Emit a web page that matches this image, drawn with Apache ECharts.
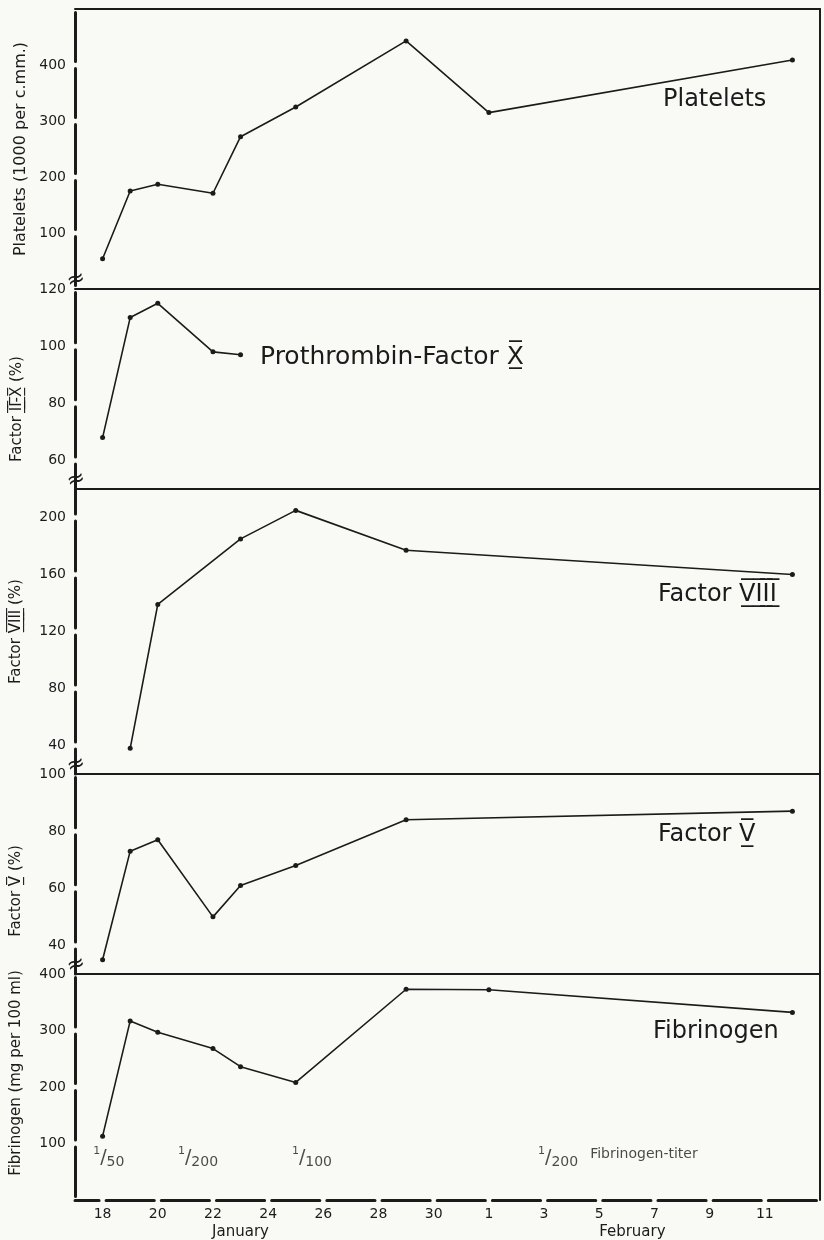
<!DOCTYPE html>
<html><head><meta charset="utf-8">
<script src="https://cdn.jsdelivr.net/npm/echarts@6/dist/echarts.min.js"></script>
<style>html,body{margin:0;padding:0;background:#f9f9f6;}#c{width:824px;height:1240px;}</style>
</head><body><div id="c"></div>
<script>
// ---- data (day numbers counted from 1 January; 32 = 1 February) ----
const plateletDays = [18,19,20,22,23,25,29,32,43];
const plateletValues = [54,175,187,171,272,325,443,315,409];
const prothrombinDays = [18,19,20,22,23];
const prothrombinValues = [68,110,115,98,97];
const factor8Days = [19,20,23,25,29,43];
const factor8Values = [38,139,185,205,177,160];
const factor5Days = [18,19,20,22,23,25,29,43];
const factor5Values = [35,73,77,50,61,68,84,87];
const fibrinogenDays = [18,19,20,22,23,25,29,32,43];
const fibrinogenValues = [113,317,297,268,236,208,373,372,332];

const xTickDays = [18,20,22,24,26,28,30,32,34,36,38,40,42];
const monthNames = ['January','February'];
const monthCenterDays = [23, 37.2];

const titerDays = [17.66, 20.73, 24.86, 33.78];
const titerDenominators = ['50','200','100','200'];
const titerLevel = 75;
const titerNote = 'Fibrinogen-titer';

const yTicks = [[100,200,300,400],[60,80,100,120],[40,80,120,160,200],[40,60,80,100],[100,200,300,400]];
const yRanges = [[0,500],[50,120],[20,220],[30,100],[0,400]];

const over = s => s.split('').map(c => c + '\u0305\u0332').join('');
const yNames = ['Platelets (1000 per c.mm.)', 'Factor ' + over('II-X') + ' (%)', 'Factor ' + over('VIII') + ' (%)', 'Factor ' + over('V') + ' (%)', 'Fibrinogen (mg per 100 ml)'];
const seriesNames = ['Platelets', 'Prothrombin-Factor ' + over('X'), 'Factor ' + over('VIII'), 'Factor ' + over('V'), 'Fibrinogen'];

// ---- layout ----
const FONT = 'DejaVu Sans';
const INK = '#1b1b1b';
const BG = '#f9f9f6';
const LEFT = 75, WIDTH = 745;
const tops = [9, 289, 489, 774, 974];
const bottoms = [289, 489, 774, 974, 1200];
const X_MIN = 17, X_MAX = 44;
const nameGaps = [44, 50, 51, 51, 51];
const nameSizes = [16, 15, 15, 15, 15];
const namePads = [[0,0,0,0],[0,40,0,0],[0,0,0,0],[0,34,0,0],[0,0,0,28]];
const GAP = 7;

function dash(lenPx, min, max, ticks) {
  const ppu = lenPx / (max - min);
  const P = (ticks[1] - ticks[0]) * ppu;
  const d0 = (ticks[0] - min) * ppu;
  const o = (((P - GAP / 2 - d0) % P) + P) % P;
  return { type: [P - GAP, GAP], dashOffset: o };
}

const grids = [], xAxes = [], yAxes = [], series = [];
const allDays = [plateletDays, prothrombinDays, factor8Days, factor5Days, fibrinogenDays];
const allVals = [plateletValues, prothrombinValues, factor8Values, factor5Values, fibrinogenValues];

for (let i = 0; i < 5; i++) {
  grids.push({ left: LEFT, width: WIDTH, top: tops[i], height: bottoms[i] - tops[i], outerBoundsMode: 'none', containLabel: false });
  xAxes.push({
    type: 'value', gridIndex: i, min: X_MIN, max: X_MAX, position: 'top',
    axisLine: { show: true, onZero: false, lineStyle: { color: INK, width: 2 } },
    axisTick: { show: false }, axisLabel: { show: false }, splitLine: { show: false }
  });
  const d = dash(bottoms[i] - tops[i], yRanges[i][0], yRanges[i][1], yTicks[i]);
  yAxes.push({
    type: 'value', gridIndex: i, min: yRanges[i][0], max: yRanges[i][1], position: 'left',
    name: yNames[i], nameLocation: 'middle', nameGap: nameGaps[i], nameRotate: 90,
    nameTextStyle: { fontFamily: FONT, fontSize: nameSizes[i], color: INK, padding: namePads[i] },
    axisLine: { show: true, onZero: false, lineStyle: { color: INK, width: 3, type: d.type, dashOffset: d.dashOffset } },
    axisTick: { show: false },
    axisLabel: { customValues: yTicks[i], margin: 9, fontFamily: FONT, fontSize: 14, color: INK },
    splitLine: { show: false }
  });
}
for (let i = 0; i < 5; i++) {
  yAxes.push({
    type: 'value', gridIndex: i, min: yRanges[i][0], max: yRanges[i][1], position: 'right',
    axisLine: { show: true, onZero: false, lineStyle: { color: INK, width: 2 } },
    axisTick: { show: false }, axisLabel: { show: false }, splitLine: { show: false }
  });
}
const xd = dash(WIDTH, X_MIN, X_MAX, xTickDays);
xAxes.push({
  type: 'value', gridIndex: 4, min: X_MIN, max: X_MAX, position: 'bottom',
  axisLine: { show: true, onZero: false, lineStyle: { color: INK, width: 3, type: xd.type, dashOffset: xd.dashOffset } },
  axisTick: { show: false }, splitLine: { show: false },
  axisLabel: { customValues: xTickDays, margin: 7, fontFamily: FONT, fontSize: 14, color: INK,
    formatter: v => String(v > 31 ? v - 31 : v) }
});

for (let i = 0; i < 5; i++) {
  series.push({
    type: 'line', name: seriesNames[i], xAxisIndex: i === 4 ? 5 : i, yAxisIndex: i,
    data: allDays[i].map((d, k) => [d, allVals[i][k]]),
    symbol: 'circle', symbolSize: 5, showSymbol: true,
    lineStyle: { color: INK, width: 1.6 }, itemStyle: { color: INK }, z: 3
  });
}
series.push({
  type: 'scatter', xAxisIndex: 5, yAxisIndex: 4, symbolSize: 0,
  data: titerDays.map(d => [d, titerLevel]),
  label: {
    show: true, position: 'right', distance: 0, color: INK, fontFamily: FONT,
    formatter: p => '{n|1}{s|/}{d|' + titerDenominators[p.dataIndex] + '}' + (p.dataIndex === titerDays.length - 1 ? '{t|' + titerNote + '}' : ''),
    rich: {
      n: { fontSize: 11, lineHeight: 11, verticalAlign: 'top', fontFamily: FONT, color: INK },
      s: { fontSize: 19, lineHeight: 24, fontFamily: FONT, color: INK },
      d: { fontSize: 14, lineHeight: 14, verticalAlign: 'bottom', fontFamily: FONT, color: INK },
      t: { fontSize: 14, lineHeight: 24, fontFamily: FONT, color: INK, padding: [0, 0, 6, 12] }
    }
  }
});

const xPix = d => LEFT + (d - X_MIN) / (X_MAX - X_MIN) * WIDTH;
const graphics = [];
const labelPos = [[663, 100, 24], [260, 357, 25], [658, 595, 24], [658, 835, 24], [653, 1032, 24]];
seriesNames.forEach((n, i) => {
  graphics.push({ type: 'text', x: labelPos[i][0], y: labelPos[i][1], z: 10,
    style: { text: n, fontFamily: FONT, fontSize: labelPos[i][2], fill: INK, align: 'left', verticalAlign: 'middle' } });
});
monthNames.forEach((m, i) => {
  graphics.push({ type: 'text', x: xPix(monthCenterDays[i]), y: 1232, z: 10,
    style: { text: m, fontFamily: FONT, fontSize: 15, fill: INK, align: 'center', verticalAlign: 'middle' } });
});
[289, 489, 774, 974].forEach(y => {
  graphics.push({ type: 'text', x: 76, y: y - 9, rotation: 0.3, z: 10,
    style: { text: '\u2248', fontFamily: FONT, fontSize: 22, fill: INK, align: 'center', verticalAlign: 'middle' } });
});

const chart = echarts.init(document.getElementById('c'), null, { renderer: 'canvas' });
chart.setOption({
  backgroundColor: BG, animation: false,
  grid: grids, xAxis: xAxes, yAxis: yAxes, series: series, graphic: graphics
});
</script></body></html>
